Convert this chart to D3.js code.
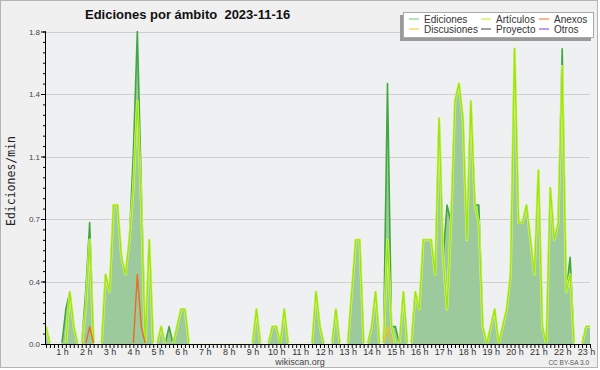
<!DOCTYPE html>
<html><head><meta charset="utf-8">
<script src="https://cdn.jsdelivr.net/npm/d3@7"></script>
<style>html,body{margin:0;padding:0;background:#fff;} svg{display:block;}</style>
</head><body>
<svg id="c" width="600" height="370"></svg>
<script>
// time of first sample (minutes after 0:00) and step between samples
const startMinute = 20;
const stepMinutes = 10;

const ediciones = [
  0.1,0,0,0,
  0,0.2,0.3,0.1,0,0,
  0.3,0.7,0,0,0,0.4,
  0.3,0.8,0.8,0.5,0.4,0.6,
  1.1,1.8,0.9,0,0.6,0,
  0,0.1,0,0.1,0,0.1,
  0.2,0.2,0,0,0,0,
  0,0,0,0,0,0,
  0,0,0,0,0,0,
  0,0.2,0,0,0,0.1,
  0.1,0,0.2,0,0,0,
  0,0,0,0,0.3,0.1,
  0,0,0,0.2,0,0,
  0,0.3,0.6,0.6,0,0,
  0.1,0.3,0,0,1.5,0.1,
  0.1,0,0.3,0,0,0.3,
  0.2,0.6,0.6,0.6,0.4,1.3,
  0.5,0.8,0.7,1.4,1.5,1.3,
  0.6,1.4,0.8,0.8,0.1,0,
  0.1,0.2,0,0.1,0.2,0.4,
  1.7,0.7,0.7,0.8,0.6,0.4,
  1.0,0.1,0,0.9,0.6,0.7,
  1.7,0.3,0.5,0,0,0,
  0.1,0.1
];
const articulos = [
  0.1,0,0,0,
  0,0,0.3,0.1,0,0,
  0.2,0.6,0,0,0,0.4,
  0.3,0.8,0.8,0.5,0.4,0.6,
  0.9,1.4,0.8,0,0.6,0,
  0,0.1,0,0,0,0.1,
  0.2,0.2,0,0,0,0,
  0,0,0,0,0,0,
  0,0,0,0,0,0,
  0,0.2,0,0,0,0.1,
  0.1,0,0.2,0,0,0,
  0,0,0,0,0.3,0.1,
  0,0,0,0.2,0,0,
  0,0.3,0.6,0.6,0,0,
  0.1,0.3,0,0,0.6,0.1,
  0,0,0.3,0,0,0.3,
  0.2,0.6,0.6,0.6,0.4,1.3,
  0.5,0.2,0.7,1.4,1.5,1.3,
  0.6,1.4,0.8,0.7,0.1,0,
  0.1,0.2,0,0.1,0.2,0.4,
  1.7,0.7,0.7,0.8,0.6,0.4,
  1.0,0.1,0,0.9,0.6,0.7,
  1.6,0.3,0.4,0,0,0,
  0.1,0.1
];
const anexos = [
  0,0,0,0,
  0,0,0,0,0,0,
  0,0.1,0,0,0,0,
  0,0,0,0,0,0,
  0,0.4,0.1,0,0,0,
  0,0,0,0,0,0,
  0,0,0,0,0,0,
  0,0,0,0,0,0,
  0,0,0,0,0,0,
  0,0,0,0,0,0,
  0,0,0,0,0,0,
  0,0,0,0,0,0,
  0,0,0,0,0,0,
  0,0,0,0,0,0,
  0,0,0,0,0,0,
  0,0,0,0,0,0,
  0,0,0,0,0,0,
  0,0,0,0,0,0,
  0,0,0,0,0,0,
  0,0,0,0,0,0,
  0,0,0,0,0,0,
  0,0,0,0,0,0,
  0,0,0,0,0,0,
  0,0
];
const discusiones = [
  0,0,0,0,
  0,0,0,0,0,0,
  0,0,0,0,0,0,
  0,0,0,0,0,0,
  0,0,0,0,0,0,
  0,0,0,0,0,0,
  0,0,0,0,0,0,
  0,0,0,0,0,0,
  0,0,0,0,0,0,
  0,0,0,0,0,0,
  0,0,0,0,0,0,
  0,0,0,0,0,0,
  0,0,0,0,0,0,
  0,0,0,0,0,0,
  0,0,0,0,0.1,0,
  0,0,0,0,0,0,
  0,0,0,0,0,0,
  0,0,0,0,0,0,
  0,0,0,0,0,0,
  0,0,0,0,0,0,
  0,0,0,0,0,0,
  0,0,0,0,0,0,
  0,0,0,0,0,0,
  0,0
];
const proyecto = [
  0,0,0,0,
  0,0,0,0,0,0, 0,0,0,0,0,0, 0,0,0,0,0,0, 0,0,0,0,0,0,
  0,0,0,0,0,0, 0,0,0,0,0,0, 0,0,0,0,0,0, 0,0,0,0,0,0,
  0,0,0,0,0,0, 0,0,0,0,0,0, 0,0,0,0,0,0, 0,0,0,0,0,0,
  0,0,0,0,0,0, 0,0,0,0,0,0, 0,0,0,0,0,0, 0,0,0,0,0,0,
  0,0,0,0,0,0, 0,0,0,0,0,0, 0,0,0,0,0,0, 0,0,0,0,0,0,
  0,0,0,0,0,0, 0,0,0,0,0,0, 0,0,0,0,0,0,
  0,0
];
const otros = [
  0,0,0,0,
  0,0,0,0,0,0, 0,0,0,0,0,0, 0,0,0,0,0,0, 0,0,0,0,0,0,
  0,0,0,0,0,0, 0,0,0,0,0,0, 0,0,0,0,0,0, 0,0,0,0,0,0,
  0,0,0,0,0,0, 0,0,0,0,0,0, 0,0,0,0,0,0, 0,0,0,0,0,0,
  0,0,0,0,0,0, 0,0,0,0,0,0, 0,0,0,0,0,0, 0,0,0,0,0,0,
  0,0,0,0,0,0, 0,0,0,0,0,0, 0,0,0,0,0,0, 0,0,0,0,0,0,
  0,0,0,0,0,0, 0,0,0,0,0,0, 0,0,0,0,0,0,
  0,0
];

const hourLabels = ["1 h","2 h","3 h","4 h","5 h","6 h","7 h","8 h","9 h","10 h","11 h","12 h",
  "13 h","14 h","15 h","16 h","17 h","18 h","19 h","20 h","21 h","22 h","23 h"];
const yTickValues = [0, 0.36, 0.72, 1.08, 1.44, 1.8];
const yTickLabels = ["0.0","0.4","0.7","1.1","1.4","1.8"];
const seriesNames = ["Ediciones","Artículos","Anexos","Discusiones","Proyecto","Otros"];
const legendColors = ["#86d486","#c8ec4c","#f7844c","#f8cc44","#606060","#9a55ee"];
const titleText = "Ediciones por ámbito\u00a0\u00a02023-11-16";

// ---------- drawing ----------
const svg = d3.select("#c");
const times = ediciones.map((d, i) => startMinute + i * stepMinutes);
const x = d3.scaleLinear().domain([times[0], times[times.length - 1]]).range([46, 590]);
const y = d3.scaleLinear().domain([0, 1.8]).range([344, 31.5]);

// background + frame
svg.append("rect").attr("x", 0).attr("y", 0).attr("width", 598).attr("height", 368).attr("fill", "#f0f0f0");
svg.append("rect").attr("x", 0.5).attr("y", 0.5).attr("width", 597).attr("height", 367)
  .attr("fill", "none").attr("stroke", "#b4b4b4");
svg.append("rect").attr("x", 46).attr("y", 31.5).attr("width", 544).attr("height", 312.5).attr("fill", "#eff0f2");

svg.append("defs").append("clipPath").attr("id", "plotclip")
  .append("rect").attr("x", 40).attr("y", 0).attr("width", 560).attr("height", 343);

// grid
svg.append("g").selectAll("line").data(yTickValues.slice(1)).join("line")
  .attr("x1", 46).attr("x2", 590)
  .attr("y1", d => Math.round(y(d)) + 0.5).attr("y2", d => Math.round(y(d)) + 0.5)
  .attr("stroke", "#cfcfcf").attr("stroke-width", 1);

// area
const area = d3.area().x((d, i) => x(times[i])).y0(y(0)).y1(d => y(d));
svg.append("path").datum(ediciones).attr("d", area).attr("fill", "#9cca9c");

const lines = svg.append("g").attr("clip-path", "url(#plotclip)");
const line = d3.line().x((d, i) => x(times[i])).y(d => y(d));
function drawLine(data, color, w) {
  lines.append("path").datum(data).attr("d", line).attr("fill", "none")
    .attr("stroke", color).attr("stroke-width", w).attr("stroke-linejoin", "round");
}
drawLine(ediciones, "#3fa83f", 1.6);
drawLine(articulos, "#d8f480", 2.6);
drawLine(articulos, "#9ee40f", 1.4);
drawLine(anexos, "#ef6a1e", 1.4);
drawLine(discusiones, "#f2c21e", 1.4);
drawLine(proyecto, "#606060", 1);
drawLine(otros, "#9a55ee", 1);

// axes
const axisFont = "'Liberation Sans', Arial, sans-serif";
const gx = svg.append("g").attr("transform", "translate(0,344)");
gx.call(d3.axisBottom(x).tickValues(times).tickSize(4).tickFormat(""));
const hourTimes = hourLabels.map((d, i) => (i + 1) * 60);
const gxl = svg.append("g").attr("transform", "translate(0,344)");
gxl.call(d3.axisBottom(x).tickValues(hourTimes).tickSize(0).tickPadding(5).tickFormat((d, i) => hourLabels[i]));
gxl.select(".domain").remove();
gxl.selectAll("text").attr("font-family", axisFont).attr("font-size", "9px").attr("fill", "#333");
gx.selectAll("line").attr("stroke", "#000");
gx.select(".domain").attr("stroke", "#000").attr("d", "M46,0.5H590");

const minorY = d3.range(0, 31).map(k => k * 0.06);
const gym = svg.append("g").attr("transform", "translate(46,0)");
gym.call(d3.axisLeft(y).tickValues(minorY).tickSize(3).tickFormat(""));
gym.select(".domain").remove();
gym.selectAll("line").attr("stroke", "#000");
const gy = svg.append("g").attr("transform", "translate(46,0)");
gy.call(d3.axisLeft(y).tickValues(yTickValues).tickSize(5).tickPadding(1).tickFormat((d, i) => yTickLabels[i]));
gy.select(".domain").attr("stroke", "#000").attr("d", "M-0.5,31.5V344");
gy.selectAll("line").attr("stroke", "#000");
gy.selectAll("text").attr("font-family", axisFont).attr("font-size", "8px").attr("fill", "#444");

// titles
svg.append("text").attr("x", 85).attr("y", 18.5).text(titleText)
  .attr("font-family", axisFont).attr("font-weight", "bold").attr("font-size", "13px").attr("fill", "#111");
svg.append("text").attr("transform", "translate(15,181) rotate(-90)").attr("text-anchor", "middle")
  .text("Ediciones/min").attr("font-family", "'DejaVu Sans Mono', monospace").attr("font-size", "11.5px").attr("fill", "#222");
svg.append("text").attr("x", 300).attr("y", 364.5).attr("text-anchor", "middle").text("wikiscan.org")
  .attr("font-family", axisFont).attr("font-size", "9px").attr("fill", "#444");
svg.append("text").attr("x", 589).attr("y", 365).attr("text-anchor", "end").text("CC BY-SA 3.0")
  .attr("font-family", axisFont).attr("font-size", "6.5px").attr("fill", "#555");

// legend
const lg = svg.append("g");
lg.append("rect").attr("x", 400).attr("y", 15).attr("width", 191).attr("height", 26).attr("fill", "#9a9a9a");
lg.append("rect").attr("x", 403.5).attr("y", 12.5).attr("width", 190).attr("height", 25)
  .attr("fill", "#fff").attr("stroke", "#aaa");
const colX = [409, 481, 539];
seriesNames.forEach((name, i) => {
  const col = [0, 1, 2, 0, 1, 2][i];
  const row = i < 3 ? 0 : 1;
  const ly = row === 0 ? 19 : 29;
  lg.append("line").attr("x1", colX[col]).attr("x2", colX[col] + 10).attr("y1", ly).attr("y2", ly)
    .attr("stroke", legendColors[i]).attr("stroke-width", 1.2);
  lg.append("text").attr("x", colX[col] + 15).attr("y", ly + 3.5).text(name)
    .attr("font-family", axisFont).attr("font-size", "10px").attr("fill", "#333");
});
</script>
</body></html>
